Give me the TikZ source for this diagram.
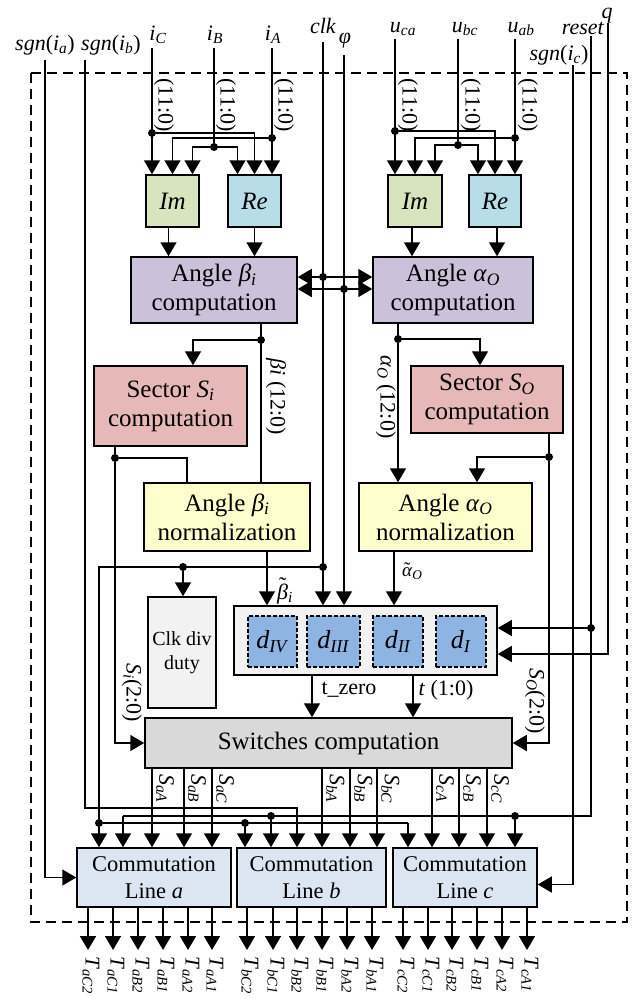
\documentclass[tikz,border=0pt]{standalone}
\usepackage{fontspec}
\setmainfont{Liberation Serif}
\usetikzlibrary{arrows.meta}

\definecolor{imgreen}{HTML}{D7E4BD}
\definecolor{reblue}{HTML}{B7DEE8}
\definecolor{anglecol}{HTML}{CCC1DA}
\definecolor{sectcol}{HTML}{E6B9B8}
\definecolor{normcol}{HTML}{FFFFCC}
\definecolor{panelgray}{HTML}{F2F2F2}
\definecolor{dcol}{HTML}{8DB4E2}
\definecolor{swgray}{HTML}{D9D9D9}
\definecolor{linecol}{HTML}{DCE6F2}

\newcommand{\vs}[2]{\textit{#1}\textsubscript{\textit{#2}}}
\newcommand{\sgnlbl}[1]{\textit{sgn}(\vs{i}{#1})}
\newcommand{\tld}[2]{\ooalign{\textit{#1}\cr\hidewidth\raisebox{#2}{\symbol{"02DC}}\hidewidth\cr}}

\tikzset{
  blk/.style={draw, line width=1.5pt, inner sep=0pt, align=center, font=\fontsize{25}{29}\selectfont},
  linebox/.style={blk, fill=linecol, minimum height=59pt, font=\fontsize{22.5}{27}\selectfont},
  dbox/.style={draw, fill=dcol, line width=1.5pt, dash pattern=on 4pt off 2pt, inner sep=0pt,
    minimum width=50pt, minimum height=51pt, font=\fontsize{26}{28}\selectfont},
  wire/.style={line width=1.5pt},
  arr/.style={line width=1.5pt, -{Triangle[length=14pt, width=16pt]}},
  jn/.style={circle, fill, inner sep=0pt, minimum size=8pt},
  lbl/.style={font=\fontsize{22}{24}\selectfont, inner sep=0pt},
  vlbl/.style={lbl, rotate=-90}
}

\begin{document}
\begin{tikzpicture}[x=1pt, y=-1pt]
    \useasboundingbox (0,0) rectangle (635,999);

    \draw[line width=1.5pt, dash pattern=on 10pt off 6pt] (31,73) rectangle (627,922);

    % blocks
    \node[blk, fill=imgreen, minimum width=53pt, minimum height=52pt] (imI) at (172.5,201) {\textit{Im}};
    \node[blk, fill=reblue, minimum width=53pt, minimum height=52pt] (reI) at (254.5,201) {\textit{Re}};
    \node[blk, fill=imgreen, minimum width=54pt, minimum height=52pt] (imU) at (415,201) {\textit{Im}};
    \node[blk, fill=reblue, minimum width=52pt, minimum height=52pt] (reU) at (495,201) {\textit{Re}};
    \node[blk, fill=anglecol, minimum width=166pt, minimum height=66pt] (angI) at (214,290) {Angle \vs{β}{i}\\computation};
    \node[blk, fill=anglecol, minimum width=160pt, minimum height=66pt] (angO) at (453,290) {Angle \vs{α}{O}\\computation};
    \node[blk, fill=sectcol, minimum width=153pt, minimum height=80pt] (secI) at (170.5,406) {Sector \vs{S}{i}\\computation};
    \node[blk, fill=sectcol, minimum width=152pt, minimum height=67pt] (secO) at (487,399.5) {Sector \vs{S}{O}\\computation};
    \node[blk, fill=normcol, minimum width=166pt, minimum height=68pt] (normI) at (227,517) {Angle \vs{β}{i}\\normalization};
    \node[blk, fill=normcol, minimum width=173pt, minimum height=68pt] (normO) at (445.5,517) {Angle \vs{α}{O}\\normalization};
    \node[blk, fill=panelgray, minimum width=68pt, minimum height=111pt, font=\fontsize{20}{24}\selectfont] (clkdiv) at (182,652.5) {Clk div\\duty};
    \node[blk, fill=panelgray, minimum width=263pt, minimum height=69pt] (dutyblk) at (365.5,640.5) {};
    \node[dbox, minimum width=49pt] (dIV) at (272.5,641.5) {\vs{d}{IV}};
    \node[dbox, minimum width=53pt] (dIII) at (333.5,641.5) {\vs{d}{III}};
    \node[dbox] (dII) at (398,641.5) {\vs{d}{II}};
    \node[dbox] (dI) at (461,641.5) {\vs{d}{I}};
    \node[blk, fill=swgray, minimum width=367pt, minimum height=50pt] (sw) at (328.5,743) {Switches computation};
    \node[linebox, minimum width=154pt] (lineA) at (154,877.5) {Commutation\\Line \textit{a}};
    \node[linebox, minimum width=149pt] (lineB) at (311.5,877.5) {Commutation\\Line \textit{b}};
    \node[linebox, minimum width=144pt] (lineC) at (465,877.5) {Commutation\\Line \textit{c}};

    % inputs
    \coordinate (sga) at (45,60);
    \coordinate (sgb) at (85,60);
    \coordinate (iC) at (152,48);
    \coordinate (iB) at (214,48);
    \coordinate (iA) at (272,48);
    \coordinate (clk) at (323,42);
    \coordinate (phi) at (344,55);
    \coordinate (uca) at (395,39);
    \coordinate (ubc) at (458,39);
    \coordinate (uab) at (515,39);
    \coordinate (sgc) at (573,65);
    \coordinate (reset) at (591,36);
    \coordinate (q) at (608,23);

    \node[lbl, anchor=base] at (45,50) {\sgnlbl{a}};
    \node[lbl, anchor=base] at (111,50) {\sgnlbl{b}};
    \node[lbl, anchor=base] at (158,40) {\vs{i}{C}};
    \node[lbl, anchor=base] at (215,40) {\vs{i}{B}};
    \node[lbl, anchor=base] at (273,40) {\vs{i}{A}};
    \node[lbl, anchor=base] at (323,33) {\textit{clk}};
    \node[lbl, anchor=base] at (345,43) {\textit{φ}};
    \node[lbl, anchor=base] at (403,32) {\vs{u}{ca}};
    \node[lbl, anchor=base] at (465,32) {\vs{u}{bc}};
    \node[lbl, anchor=base] at (521,32) {\vs{u}{ab}};
    \node[lbl, anchor=base] at (559,60) {\sgnlbl{c}};
    \node[lbl, anchor=base] at (583,34) {\textit{reset}};
    \node[lbl, anchor=base] at (607,18) {\textit{q}};

    \node[vlbl] at (164,105) {(11:0)};
    \node[vlbl] at (226,105) {(11:0)};
    \node[vlbl] at (284,105) {(11:0)};
    \node[vlbl] at (408,105) {(11:0)};
    \node[vlbl] at (471,105) {(11:0)};
    \node[vlbl] at (528,105) {(11:0)};

    % current side into Im / Re
    \node[jn] (jC) at (152,133) {};
    \node[jn] (jA) at (272,138) {};
    \node[jn] (jB) at (214,147) {};
    \draw[arr] (iC) -- (iC |- imI.north);
    \draw[arr] (iA) -- (iA |- reI.north);
    \draw[wire] (iB) -- (jB);
    \draw[arr] (jC) -| (reI.north);
    \draw[arr] (jA) -| (imI.north);
    \draw[arr] (jB) -| ([xshift=20pt]imI.north);
    \draw[arr] (jB) -| ([xshift=-17pt]reI.north);

    % voltage side into Im / Re
    \node[jn] (jca) at (395,131) {};
    \node[jn] (jab) at (515,138) {};
    \node[jn] (jbc) at (458,145) {};
    \draw[arr] (uca) -- (uca |- imU.north);
    \draw[arr] (uab) -- (uab |- reU.north);
    \draw[wire] (ubc) -- (jbc);
    \draw[arr] (jca) -| (reU.north);
    \draw[arr] (jab) -| (imU.north);
    \draw[arr] (jbc) -| ([xshift=20pt]imU.north);
    \draw[arr] (jbc) -| ([xshift=-17pt]reU.north);

    \draw[arr] ([xshift=-4pt]imI.south) -- ([xshift=-4pt]imI.south |- angI.north);
    \draw[arr] (reI.south) -- (reI.south |- angI.north);
    \draw[arr] ([xshift=-3pt]imU.south) -- ([xshift=-3pt]imU.south |- angO.north);
    \draw[arr] ([xshift=2pt]reU.south) -- ([xshift=2pt]reU.south |- angO.north);

    % clk and phi
    \node[jn] (jk1) at (323,277) {};
    \node[jn] (jp1) at (344,289) {};
    \draw[arr] (clk) -- (clk |- dutyblk.north);
    \draw[arr] (phi) -- (phi |- dutyblk.north);
    \draw[arr] (jk1) -- (jk1 -| angI.east);
    \draw[arr] (jk1) -- (jk1 -| angO.west);
    \draw[arr] (jp1) -- (jp1 -| angI.east);
    \draw[arr] (jp1) -- (jp1 -| angO.west);

    % beta branch
    \node[jn] (jbo) at (261,340) {};
    \draw[wire] (angI.south -| jbo) -- (jbo);
    \draw[arr] (jbo) -| ([xshift=22.5pt]secI.north);
    \draw[wire] (jbo) -- (jbo |- normI.north);
    \node[vlbl] at (276,397) {\textit{βi} (12:0)};
    \node[jn] (jsi) at (115,458) {};
    \draw[wire] (secI.south -| jsi) -- (jsi);
    \draw[wire] (jsi) -| ([xshift=-40pt]normI.north);
    \draw[arr] (jsi) |- (sw.west);
    \node[vlbl] at (132,693) {\vs{S}{i}(2:0)};

    % alpha branch
    \node[jn] (jao) at (398,339) {};
    \draw[wire] (angO.south -| jao) -- (jao);
    \draw[arr] (jao) -| ([xshift=-7pt]secO.north);
    \draw[arr] (jao) -- (jao |- normO.north);
    \node[vlbl] at (386,397) {\vs{α}{O} (12:0)};
    \node[jn] (jso) at (549,457) {};
    \draw[wire] (secO.south -| jso) -- (jso);
    \draw[arr] (jso) -| ([xshift=31.5pt]normO.north);
    \draw[arr] (jso) |- (sw.east);
    \node[vlbl] at (535,701) {\vs{S}{O}(2:0)};

    \draw[arr] ([xshift=40pt]normI.south) -- ([xshift=40pt]normI.south |- dutyblk.north);
    \draw[arr] ([xshift=-51.5pt]normO.south) -- ([xshift=-51.5pt]normO.south |- dutyblk.north);
    \node[lbl, anchor=west] at (277,593) {\tld{β}{0.3em}\textsubscript{\textit{i}}};
    \node[lbl, anchor=west, font=\fontsize{19}{22}\selectfont] at (402,574) {\tld{α}{0.1em}\textsubscript{\textit{O}}};

    % clk distribution
    \node[jn] (jk2) at (323,567) {};
    \node[jn] (jk3) at (183,567) {};
    \node[jn] (jk5) at (99,823) {};
    \node[jn] (jk6) at (245,823) {};
    \coordinate (ck7) at (408,823);
    \draw[wire] (jk2) -- (99,567) -- (jk5);
    \draw[arr] (jk3) -- (jk3 |- clkdiv.north);
    \draw[wire] (jk5) -- (ck7);
    \draw[arr] (jk5) -- (jk5 |- lineA.north);
    \draw[arr] (jk6) -- (jk6 |- lineB.north);
    \draw[arr] (ck7) -- (ck7 |- lineC.north);

    % reset and q
    \node[jn] (jr1) at (591,628) {};
    \node[jn] (jr4) at (271,816) {};
    \node[jn] (jr5) at (515,816) {};
    \coordinate (rs3) at (123,816);
    \coordinate (q1) at (608,654);
    \draw[wire] (reset) -- (591,816) -- (rs3);
    \draw[arr] (jr1) -- (jr1 -| dutyblk.east);
    \draw[arr] (rs3) -- (rs3 |- lineA.north);
    \draw[arr] (jr4) -- (jr4 |- lineB.north);
    \draw[arr] (jr5) -- (jr5 |- lineC.north);
    \draw[arr] (q) -- (q1) -- (q1 -| dutyblk.east);

    % sign inputs
    \coordinate (sb1) at (297,808);
    \draw[arr] (sga) |- (lineA.west);
    \draw[arr] (sgb) |- (sb1) -- (sb1 |- lineB.north);
    \draw[arr] (sgc) |- ([yshift=-7pt]lineC.east);

    % duty block to switches
    \coordinate (tz) at (312,0);
    \coordinate (tt) at (413,0);
    \draw[arr] (dutyblk.south -| tz) -- (tz |- sw.north);
    \draw[arr] (dutyblk.south -| tt) -- (tt |- sw.north);
    \node[lbl] at (349,690) {t\_zero};
    \node[lbl] at (446,690) {\textit{t} (1:0)};

    % switch signals
    \foreach \x/\s in {152/aA, 184/aB, 212/aC, 322/bA, 350/bB, 377/bC, 432/cA, 459/cB, 487/cC} {
        \coordinate (s) at (\x,0);
        \draw[arr] (sw.south -| s) -- (s |- lineA.north);
        \node[vlbl, anchor=south west] at (\x+4,774) {\vs{S}{\s}};
    }

    % outputs
    \foreach \x/\t in {88/aC2, 113/aC1, 138/aB2, 163/aB1, 188/aA2, 212/aA1} {
        \coordinate (o) at (\x,950);
        \draw[arr] (lineA.south -| o) -- (o);
        \node[vlbl, anchor=mid west, font=\fontsize{21}{24}\selectfont] at (\x,956) {\vs{T}{\t}};
    }
    \foreach \x/\t in {247/bC2, 273/bC1, 297/bB2, 322/bB1, 347/bA2, 372/bA1} {
        \coordinate (o) at (\x,950);
        \draw[arr] (lineB.south -| o) -- (o);
        \node[vlbl, anchor=mid west, font=\fontsize{21}{24}\selectfont] at (\x,956) {\vs{T}{\t}};
    }
    \foreach \x/\t in {403/cC2, 428/cC1, 452/cB2, 477/cB1, 502/cA2, 527/cA1} {
        \coordinate (o) at (\x,950);
        \draw[arr] (lineC.south -| o) -- (o);
        \node[vlbl, anchor=mid west, font=\fontsize{21}{24}\selectfont] at (\x,956) {\vs{T}{\t}};
    }
\end{tikzpicture}
\end{document}
